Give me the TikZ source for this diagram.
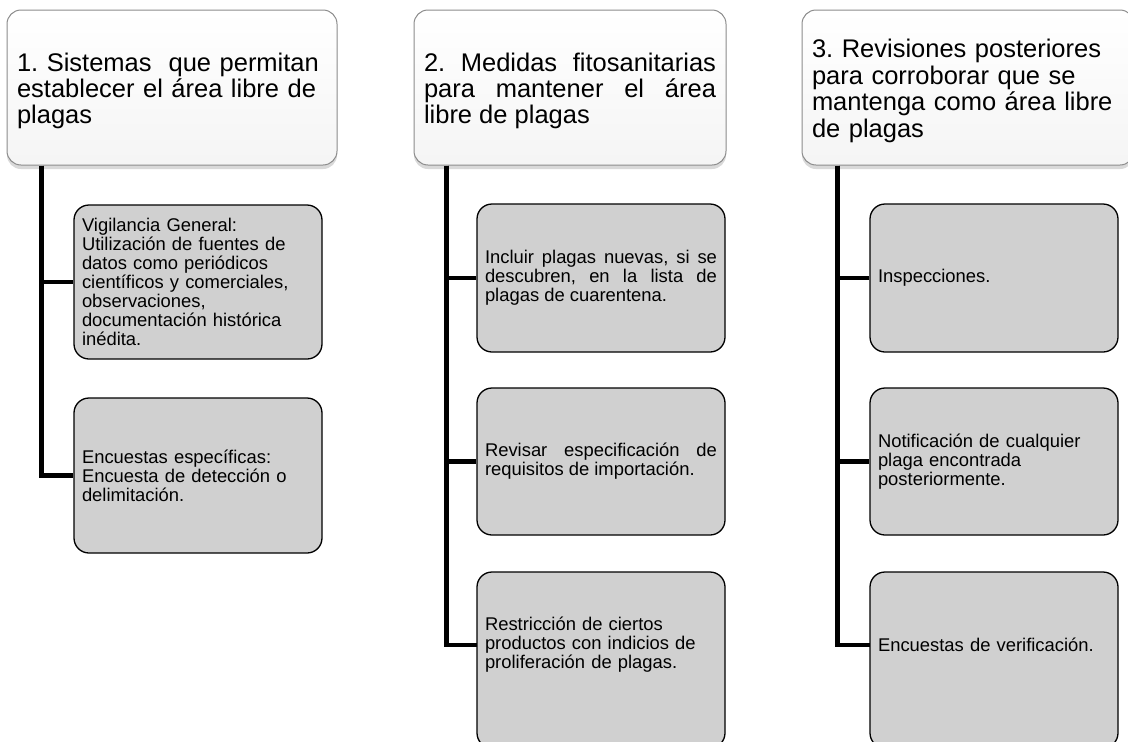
\documentclass[tikz,border=0pt]{standalone}
\usepackage{fontspec}
\setmainfont{Liberation Sans}
\usetikzlibrary{shadows}
\definecolor{cajagris}{RGB}{208,208,208}
\definecolor{bordegris}{RGB}{140,140,140}
\newcommand\fuentetitulo{\fontsize{25.5}{26.4}\selectfont\hyphenpenalty=10000\lineskiplimit=-100pt}
\newcommand\fuentecaja{\fontsize{18.4}{19}\selectfont\hyphenpenalty=10000\lineskiplimit=-100pt}
\tolerance=9999
\frenchspacing
\tikzset{
  titulo/.style={draw=bordegris, line width=1pt, rounded corners=14pt,
    top color=white, bottom color=gray!8,
    drop shadow={shadow xshift=0pt, shadow yshift=-4pt, opacity=0.3},
    minimum height=155pt, inner xsep=10pt, font=\fuentetitulo,
    execute at end node={\par\vspace*{-7pt}}},
  caja/.style={draw=black, line width=1.3pt, fill=cajagris, rounded corners=15pt,
    inner xsep=8pt, text width=232pt, font=\fuentecaja},
  textocaja/.style={inner xsep=8pt, text width=232pt, font=\fuentecaja},
  rama/.style={line width=4.5pt}
}
\begin{document}
\begin{tikzpicture}[x=1pt,y=-1pt]
\path[use as bounding box] (0,0) rectangle (1128,742);
\clip (0,0) rectangle (1128,742);

\node[titulo, text width=310pt, align=left] (t1) at (172,87.5)
  {1. Sistemas\ \ que permitan\\establecer el área libre de\\plagas};
\node[titulo, text width=292pt, align=justify] (t2) at (570,87.5)
  {2. Medidas fitosanitarias para mantener el área libre de plagas};
\node[titulo, text width=312pt, align=left] (t3) at (968,87.5)
  {3. Revisiones posteriores\\para corroborar que se\\mantenga como área libre\\de plagas};

% columna 1
\node[caja, minimum height=154pt, align=left] (c11) at (198,282)
  {Vigilancia General:\\Utilización de fuentes de\\datos como periódicos\\científicos y comerciales,\\observaciones,\\documentación histórica\\inédita.};
\node[caja, minimum height=155pt, align=left] (c12) at (198,475.5)
  {Encuestas específicas:\\Encuesta de detección o\\delimitación.};

% columna 2
\node[caja, minimum height=148pt, align=justify] (c21) at (601,278)
  {Incluir plagas nuevas, si se descubren, en la lista de plagas de cuarentena.};
\node[caja, minimum height=147pt, align=justify] (c22) at (601,461.5)
  {Revisar especificación de requisitos de importación.};
\node[caja, minimum height=176pt] (c23) at (601,660) {};
\node[textocaja, align=left] (c23t) at (601,645)
  {Restricción de ciertos\\productos con indicios de\\proliferación de plagas.};

% columna 3
\node[caja, minimum height=148pt, align=left] (c31) at (994,278) {Inspecciones.};
\node[caja, minimum height=147pt, align=left] (c32) at (994,461.5)
  {Notificación de cualquier\\plaga encontrada\\posteriormente.};
\node[caja, minimum height=176pt] (c33) at (994,660) {};
\node[textocaja, align=left] (c33t) at (994,645) {Encuestas de verificación.};

\draw[rama] ([xshift=35pt]t1.south west) |- (c11.west);
\draw[rama] ([xshift=35pt]t1.south west) |- (c12.west);
\draw[rama] ([xshift=33pt]t2.south west) |- (c21.west);
\draw[rama] ([xshift=33pt]t2.south west) |- (c22.west);
\draw[rama] ([xshift=33pt]t2.south west) |- (c23t.west);
\draw[rama] ([xshift=36pt]t3.south west) |- (c31.west);
\draw[rama] ([xshift=36pt]t3.south west) |- (c32.west);
\draw[rama] ([xshift=36pt]t3.south west) |- (c33t.west);
\end{tikzpicture}
\end{document}
